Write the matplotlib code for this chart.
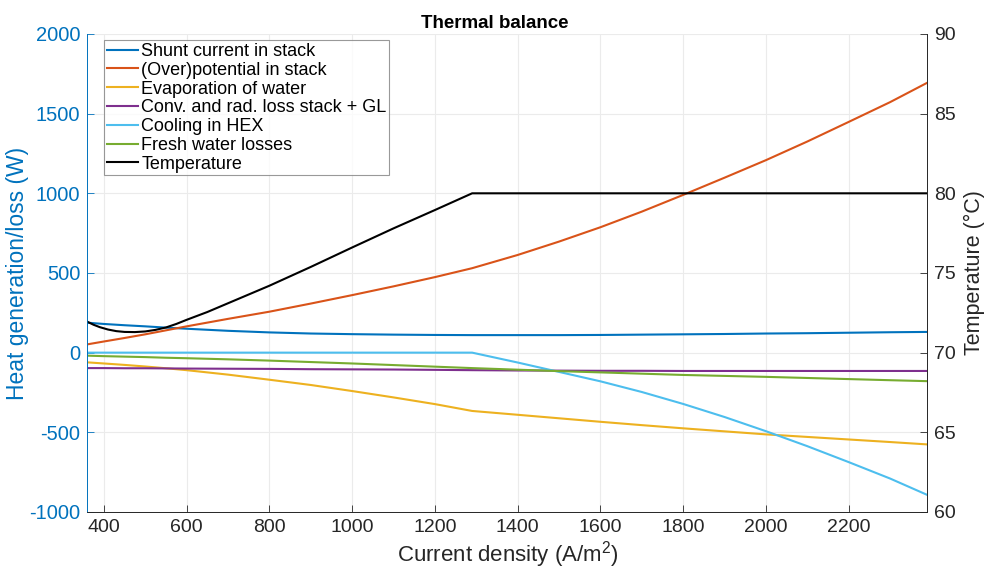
import numpy as np
import matplotlib.pyplot as plt

plt.rcParams['font.family'] = ['Liberation Sans', 'DejaVu Sans']
plt.rcParams['axes.unicode_minus'] = False
plt.rcParams['mathtext.fontset'] = 'custom'
plt.rcParams['mathtext.rm'] = 'Liberation Sans'

# current density (A/m^2)
j = [360, 400, 450, 500, 550, 600, 700, 800, 900, 1000, 1100, 1200, 1290,
     1400, 1500, 1600, 1700, 1800, 1900, 2000, 2100, 2200, 2300, 2390]

shunt = [188, 180, 172, 165, 157, 150, 137, 127, 120, 116, 113, 111, 110,
         110, 110, 111, 113, 115, 117, 120, 122, 125, 128, 130]
overpot = [52, 70, 92, 115, 140, 165, 212, 257, 308, 361, 416, 474, 530,
           613, 697, 787, 885, 990, 1098, 1208, 1325, 1448, 1572, 1694]
evap = [-61, -68, -77, -87, -98, -110, -138, -170, -203, -241, -281, -323, -366,
        -390, -412, -434, -455, -475, -494, -513, -529, -545, -561, -576]
conv = [-97, -97, -98, -98, -99, -100, -101, -102, -104, -105, -106, -108, -110,
        -112, -113, -114, -114, -115, -115, -115, -115, -115, -115, -115]
cooling = [0, 0, 0, 0, 0, 0, 0, 0, 0, 0, 0, 0, 0,
           -62, -121, -180, -247, -322, -404, -493, -587, -687, -790, -893]
fresh = [-19, -22, -25, -28, -32, -35, -42, -50, -59, -68, -78, -88, -97,
         -107, -116, -124, -132, -140, -146, -152, -159, -166, -173, -179]

# temperature (right axis), own sampling
j_temp = [360, 375, 390, 410, 430, 450, 475, 500, 525, 550, 575, 600, 650, 700,
          800, 900, 1000, 1100, 1200, 1290, 2390]
temp = [71.94, 71.75, 71.6, 71.45, 71.35, 71.3, 71.29, 71.33, 71.43, 71.58, 71.8,
        72.06, 72.55, 73.1, 74.2, 75.38, 76.6, 77.8, 78.95, 80.0, 80.0]

blue = '#0072BD'
dark = '#262626'

fig = plt.figure(figsize=(9.87, 5.70), dpi=100)
ax = fig.add_axes([0.0885, 0.1018, 0.851, 0.8386])
ax2 = ax.twinx()

lines = []
lines += ax.plot(j, shunt, color='#0072BD', lw=1.5, label='Shunt current in stack')
lines += ax.plot(j, overpot, color='#D95319', lw=1.5, label='(Over)potential in stack')
lines += ax.plot(j, evap, color='#EDB120', lw=1.5, label='Evaporation of water')
lines += ax.plot(j, conv, color='#7E2F8E', lw=1.5, label='Conv. and rad. loss stack + GL')
lines += ax.plot(j, cooling, color='#4DBEEE', lw=1.5, label='Cooling in HEX')
lines += ax.plot(j, fresh, color='#77AC30', lw=1.5, label='Fresh water losses')
lines += ax2.plot(j_temp, temp, color='black', lw=1.5, label='Temperature')

ax.set_xlim(360, 2390)
ax.set_ylim(-1000, 2000)
ax2.set_ylim(60, 90)
ax.set_xticks(range(400, 2201, 200))
ax.set_yticks(range(-1000, 2001, 500))
ax2.set_yticks(range(60, 91, 5))

ax.grid(True, color='#ebebeb', lw=0.8)
ax.set_axisbelow(True)

for a in (ax, ax2):
    a.spines['top'].set_visible(False)
    a.spines['bottom'].set_color(dark)
    a.spines['bottom'].set_linewidth(0.6)
    a.spines['left'].set_color(blue)
    a.spines['left'].set_linewidth(0.6)
    a.spines['right'].set_color(dark)
    a.spines['right'].set_linewidth(0.6)

ax.tick_params(axis='x', direction='in', length=5, width=0.6, colors=dark,
               labelsize=14, pad=5)
ax.tick_params(axis='y', direction='in', length=5, width=0.6, colors=blue,
               labelsize=14.5, pad=5)
ax2.tick_params(axis='y', direction='in', length=5, width=0.6, colors=dark,
                labelsize=14, pad=5)

ax.set_xlabel('Current density (A/m$^2$)', fontsize=16, color=dark, labelpad=2)
ax.set_ylabel('Heat generation/loss (W)', fontsize=16.5, color=blue, labelpad=0)
ax2.set_ylabel('Temperature (°C)', fontsize=15.5, color=dark, labelpad=6)
ax.set_title('Thermal balance', fontsize=13.5, fontweight='bold', color='black',
             pad=4, x=0.485)

leg = ax2.legend(lines, [l.get_label() for l in lines], loc='upper left',
                 bbox_to_anchor=(0.02, 0.987), fontsize=13, frameon=True,
                 fancybox=False, edgecolor='#808080', borderaxespad=0,
                 handlelength=1.75, handletextpad=0.15, labelspacing=0.1,
                 borderpad=0.15)
leg.get_frame().set_linewidth(0.8)

fig.savefig('out.png', dpi=100)
